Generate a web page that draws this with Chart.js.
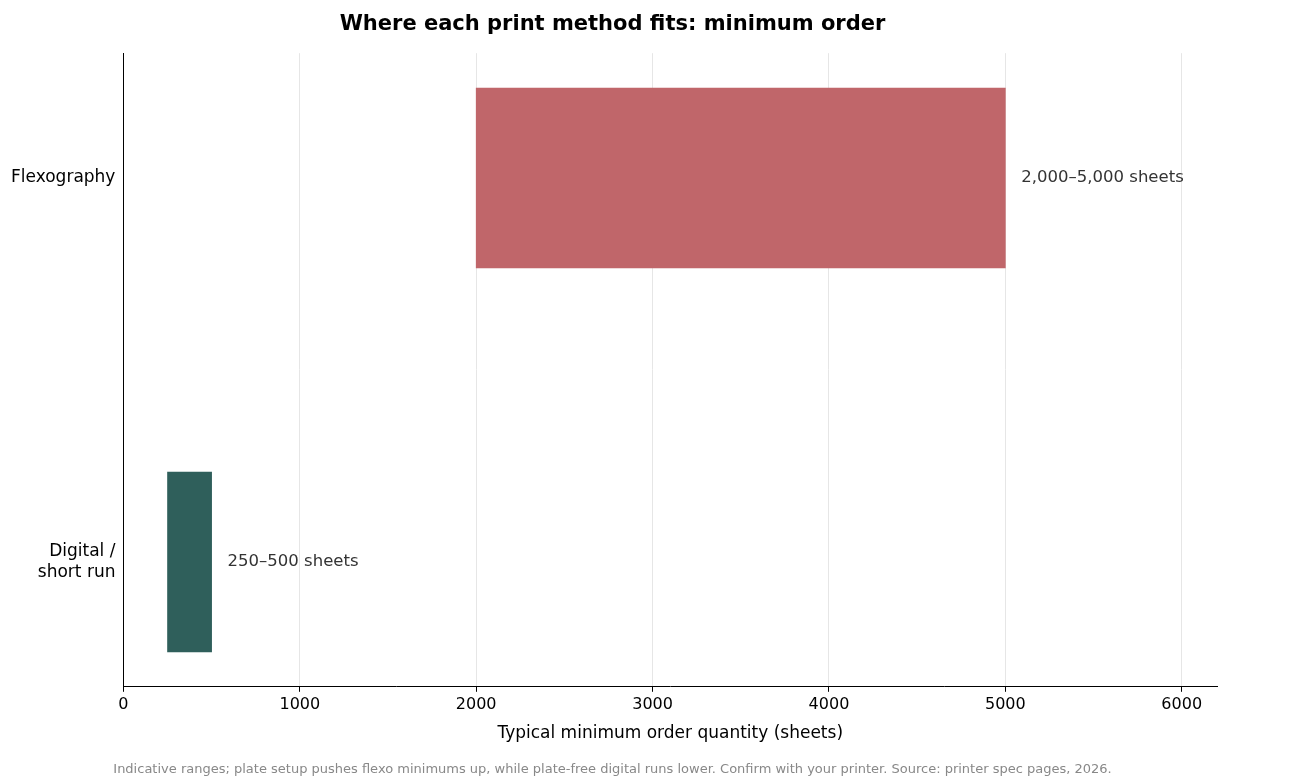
<!DOCTYPE html>
<html><head><meta charset="utf-8">
<script src="https://cdn.jsdelivr.net/npm/chart.js@4"></script>
<style>body{margin:0;background:#fff}#wrap{width:1306px;height:783px}</style>
</head><body><div id="wrap"><canvas id="c"></canvas></div>
<script>
// ─── Data ─────────────────────────────────────────────────────────────────────
const methods   = [["Flexography"], ["Digital /", "short run"]];
const minLow    = [2000, 250];
const minHigh   = [5000, 500];
const rangeText = ["2,000–5,000 sheets", "250–500 sheets"];
const colors    = ["#c0666a", "#2f5f5b"];
const xTicks    = [0, 1000, 2000, 3000, 4000, 5000, 6000];

const FONT = "'DejaVu Sans', sans-serif";

// ─── Value labels at bar end ──────────────────────────────────────────────────
const endLabels = {
  id: "endLabels",
  afterDatasetsDraw(chart) {
    const ctx = chart.ctx;
    const meta = chart.getDatasetMeta(0);
    ctx.save();
    ctx.font = "16.5px " + FONT;
    ctx.fillStyle = "#333";
    ctx.textBaseline = "middle";
    meta.data.forEach((bar, i) => ctx.fillText(rangeText[i], bar.x + 16, bar.y));
    ctx.restore();
  }
};

new Chart(document.getElementById("c"), {
  type: "bar",
  data: {
    datasets: [{
      data: methods.map((_, i) => ({ y: i, x: [minLow[i], minHigh[i]] })),
      backgroundColor: colors,
      barThickness: 180,
      borderWidth: 0
    }]
  },
  plugins: [endLabels],
  options: {
    indexAxis: "y",
    responsive: true,
    maintainAspectRatio: false,
    animation: false,
    layout: { padding: { left: 8, right: 89, top: 2, bottom: 6 } },
    scales: {
      x: {
        type: "linear", min: 0, max: 6200,
        afterBuildTicks: s => { s.ticks = xTicks.map(v => ({ value: v })); },
        ticks: { autoSkip: false, maxRotation: 0, color: "#000",
                 font: { family: FONT, size: 16 }, callback: v => v },
        grid: { color: "#e6e6e6", drawTicks: true, tickColor: "#000", tickLength: 5 },
        border: { color: "#000" },
        title: { display: true, text: "Typical minimum order quantity (sheets)",
                 color: "#000", font: { family: FONT, size: 17 }, padding: { top: 6 } }
      },
      y: {
        type: "linear", min: -0.325, max: 1.325, reverse: true, offset: false,
        afterBuildTicks: s => { s.ticks = [{ value: 0 }, { value: 1 }]; },
        ticks: { autoSkip: false, color: "#000", font: { family: FONT, size: 17 },
                 callback: v => methods[v] },
        grid: { display: false, drawTicks: true, tickColor: "#000", tickLength: 5 },
        border: { color: "#000" }
      }
    },
    plugins: {
      legend: { display: false },
      tooltip: { enabled: false },
      title: { display: true, text: "Where each print method fits: minimum order",
               color: "#000", font: { family: FONT, size: 21, weight: "bold" },
               padding: { top: 10, bottom: 16 } },
      subtitle: { display: true, position: "bottom",
                  text: "Indicative ranges; plate setup pushes flexo minimums up, while plate-free digital runs lower. Confirm with your printer. Source: printer spec pages, 2026.",
                  color: "#888", font: { family: FONT, size: 13 }, padding: { top: 14 } }
    }
  }
});
</script></body></html>
